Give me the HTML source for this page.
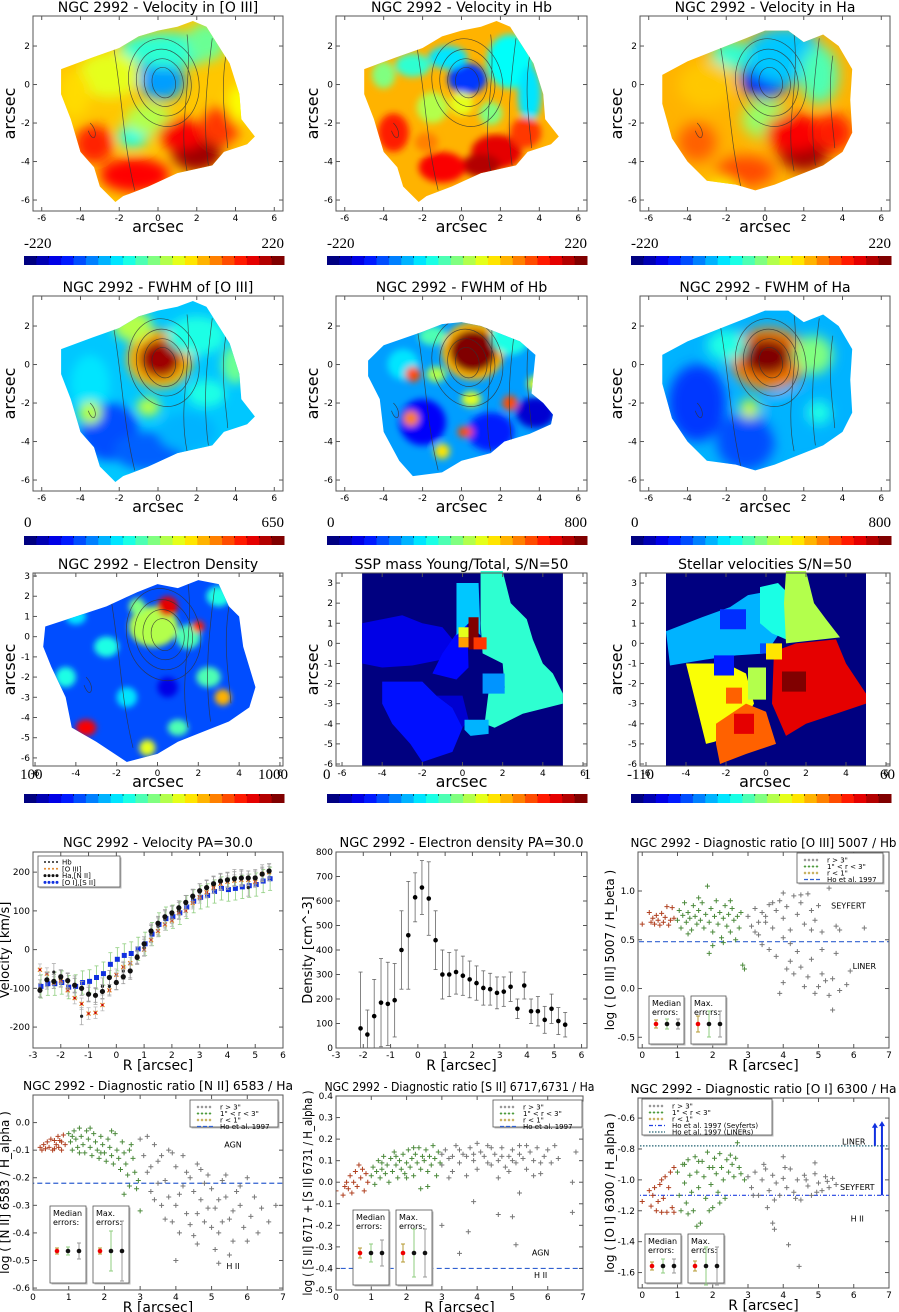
<!DOCTYPE html>
<html><head><meta charset="utf-8"><title>NGC 2992 maps</title>
<style>
html,body{margin:0;padding:0;background:#fff;}
svg{display:block;font-family:"DejaVu Sans","Liberation Sans",sans-serif;}
.serif{font-family:"Liberation Serif","DejaVu Serif",serif;}
</style></head>
<body>
<svg id="fig" width="899" height="1312" viewBox="0 0 899 1312" xmlns="http://www.w3.org/2000/svg">
<defs id="defs"></defs>
</svg>
<script>
// ---------- data: velocity curve PA=30 ----------
const velR=[-2.75,-2.5,-2.25,-2,-1.75,-1.5,-1.25,-1,-0.75,-0.5,-0.25,0,0.25,0.5,0.75,1,1.25,1.5,1.75,2,2.25,2.5,2.75,3,3.25,3.5,3.75,4,4.25,4.5,4.75,5,5.25,5.5];
const velHb=[-100,-80,-58,-75,-82,-90,-172,-113,-120,-95,-95,-82,-55,-55,-15,5,40,60,78,90,100,118,132,148,158,168,175,178,185,185,160,185,197,200];
const velO3=[-52,-62,-85,-80,-105,-125,-140,-165,-163,-143,-105,-65,-45,-35,-20,0,25,48,65,75,95,100,120,135,148,160,170,175,178,180,180,175,195,200];
const velHa=[-105,-78,-82,-70,-80,-92,-100,-115,-118,-108,-72,-85,-70,-55,-20,15,48,68,85,95,108,122,138,152,160,170,177,180,183,185,185,185,195,203];
const velOI=[-95,-88,-88,-85,-97,-95,-85,-82,-72,-62,-38,-25,-15,-10,2,15,40,65,80,85,95,110,125,135,140,150,158,155,158,162,165,168,177,183];
// ---------- data: electron density ----------
const denR=[-2.1,-1.85,-1.6,-1.35,-1.1,-0.85,-0.6,-0.35,-0.1,0.15,0.4,0.65,0.9,1.15,1.4,1.65,1.9,2.15,2.4,2.65,2.9,3.15,3.4,3.65,3.9,4.15,4.4,4.65,4.9,5.15,5.4];
const denV=[80,55,130,185,180,195,400,460,615,655,610,440,300,300,310,295,280,265,245,240,225,230,250,160,255,150,150,115,160,110,95];
const denE=[230,100,150,180,170,150,160,220,100,110,150,120,100,90,90,80,75,70,70,65,65,60,60,40,55,50,60,55,60,55,50];
// ---------- data: [O III]/Hb ----------
const o3RedR=[0,0.2,0.25,0.3,0.35,0.4,0.45,0.5,0.55,0.6,0.65,0.7,0.75,0.8,0.85,0.9];
const o3RedV=[0.66,0.78,0.68,0.72,0.66,0.75,0.7,0.65,0.77,0.68,0.73,0.84,0.65,0.7,0.83,0.72];
const o3GrnR=[1.0,1.05,1.1,1.15,1.2,1.25,1.3,1.35,1.4,1.45,1.5,1.55,1.6,1.65,1.7,1.75,1.8,1.85,1.9,1.95,2.0,2.05,2.1,2.15,2.2,2.25,2.3,2.35,2.4,2.45,2.5,2.55,2.6,2.65,2.7,2.75,2.8,2.85,2.9,1.9,2.0,2.3,1.3,1.6,2.5];
const o3GrnV=[0.7,0.8,0.62,0.75,0.88,0.68,0.78,0.72,0.6,0.85,0.74,0.66,0.8,0.7,0.88,0.62,0.76,1.05,0.68,0.82,0.58,0.74,0.9,0.66,0.78,0.52,0.72,0.85,0.64,0.76,0.58,0.82,0.7,0.5,0.74,0.62,0.78,0.24,0.2,0.36,0.44,0.47,0.56,0.93,0.9];
const o3GryR=[3.0,3.1,3.2,3.3,3.4,3.5,3.6,3.7,3.8,3.9,4.0,4.1,4.2,4.3,4.4,4.5,4.6,4.7,4.8,4.9,5.0,5.1,5.3,5.5,5.6,6.3,3.4,3.6,3.8,4.0,4.1,4.2,4.3,4.4,4.5,4.6,4.7,4.8,4.9,5.0,5.1,5.2,5.3,5.4,5.5,5.6,5.8,5.9,3.9,4.2,3.5,3.7,4.0,4.5,3.2,5.4,5.1,4.0,3.3,4.8];
const o3GryV=[0.74,0.64,0.82,0.55,0.78,0.68,0.86,0.62,0.8,0.9,0.72,0.84,0.6,0.95,0.76,0.88,0.66,0.97,0.8,0.7,0.85,0.58,1.03,0.64,0.6,0.62,0.45,0.4,0.33,0.52,0.2,0.28,0.15,0.38,0.22,0.02,0.12,0.3,-0.05,0.02,0.15,0.08,-0.07,0.1,0.36,-0.02,0.04,0.18,-0.05,0.46,0.74,0.88,0.98,0.96,0.58,-0.22,0.4,0.06,0.68,0.6];
// ---------- data: [N II]/Ha ----------
const n2RedR=[0.2,0.25,0.3,0.35,0.4,0.45,0.5,0.55,0.6,0.65,0.7,0.72,0.75,0.8,0.85,0.9,0.6,0.8];
const n2RedV=[-0.09,-0.1,-0.08,-0.095,-0.07,-0.09,-0.06,-0.1,-0.065,-0.08,-0.05,-0.09,-0.065,-0.07,-0.045,-0.08,-0.095,-0.1];
const n2GrnR=[1.0,1.05,1.1,1.15,1.2,1.25,1.3,1.35,1.4,1.45,1.5,1.55,1.6,1.65,1.7,1.75,1.8,1.85,1.9,1.95,2.0,2.05,2.1,2.15,2.2,2.25,2.3,2.35,2.4,2.45,2.5,2.55,2.6,2.65,2.7,2.75,2.8,2.85,2.9,2.55,1.1,1.3,1.6,1.9,2.2,2.7,2.95,3.0];
const n2GrnV=[-0.04,-0.07,-0.1,-0.03,-0.06,-0.09,-0.02,-0.05,-0.08,-0.11,-0.03,-0.06,-0.09,-0.12,-0.04,-0.07,-0.1,-0.13,-0.05,-0.08,-0.11,-0.14,-0.06,-0.09,-0.12,-0.15,-0.04,-0.1,-0.13,-0.17,-0.07,-0.11,-0.15,-0.19,-0.23,-0.08,-0.13,-0.18,-0.24,-0.26,-0.05,-0.11,-0.02,-0.11,-0.03,-0.1,-0.21,-0.32];
const n2GryR=[3.0,3.1,3.2,3.3,3.4,3.5,3.6,3.7,3.8,3.9,4.0,4.1,4.2,4.3,4.4,4.5,4.6,4.7,4.8,4.9,5.0,5.1,5.2,5.3,5.4,5.5,5.6,5.7,5.8,5.9,6.0,6.1,6.2,6.4,6.6,6.8,3.2,3.5,3.7,3.9,4.1,4.3,4.5,4.6,4.8,5.0,5.2,5.4,5.6,5.8,4.0,4.4,4.7,5.1,5.5,3.3,3.6,4.2,4.9,5.3,4.0,5.2,3.4,3.8,4.6,6.3,6.0];
const n2GryV=[-0.06,-0.12,-0.18,-0.25,-0.08,-0.14,-0.3,-0.21,-0.1,-0.36,-0.16,-0.26,-0.12,-0.33,-0.2,-0.41,-0.15,-0.28,-0.36,-0.19,-0.24,-0.31,-0.4,-0.21,-0.27,-0.35,-0.43,-0.25,-0.3,-0.38,-0.2,-0.34,-0.27,-0.31,-0.36,-0.3,-0.05,-0.22,-0.35,-0.11,-0.4,-0.18,-0.25,-0.44,-0.22,-0.38,-0.28,-0.19,-0.32,-0.23,-0.3,-0.37,-0.17,-0.46,-0.48,-0.16,-0.12,-0.23,-0.31,-0.36,-0.5,-0.51,-0.28,-0.27,-0.33,-0.4,-0.43];
// ---------- data: [S II]/Ha ----------
const s2RedR=[0,0.2,0.25,0.3,0.35,0.4,0.45,0.5,0.55,0.6,0.65,0.7,0.75,0.8,0.85,0.9];
const s2RedV=[-0.04,-0.06,-0.02,0.0,-0.03,0.03,-0.05,0.0,0.05,-0.02,0.08,0.02,0.06,-0.04,0.04,0.0];
const s2GrnR=[1.0,1.05,1.1,1.15,1.2,1.25,1.3,1.35,1.4,1.45,1.5,1.55,1.6,1.65,1.7,1.75,1.8,1.85,1.9,1.95,2.0,2.05,2.1,2.15,2.2,2.25,2.3,2.35,2.4,2.45,2.5,2.55,2.6,2.65,2.7,2.75,2.8,2.85,2.9,2.95,2.4,2.6,1.7,2.0,1.3,2.2];
const s2GrnV=[0.03,0.07,-0.01,0.05,0.1,0.02,0.06,0.12,0.04,0.08,0.0,0.11,0.05,0.14,0.08,0.02,0.1,0.06,0.13,0.04,0.09,0.15,0.07,0.11,0.03,0.13,0.09,0.16,0.06,0.12,0.1,0.15,0.05,0.12,0.08,0.17,0.11,0.03,0.14,0.09,-0.03,-0.02,0.12,0.02,0.09,0.16];
const s2GryR=[3.0,3.1,3.2,3.3,3.4,3.5,3.6,3.7,3.8,3.9,4.0,4.1,4.2,4.3,4.4,4.5,4.6,4.7,4.8,4.9,5.0,5.1,5.2,5.3,5.4,5.5,5.6,5.7,5.8,5.9,6.0,6.1,6.2,6.3,6.8,6.7,3.2,3.5,3.7,4.0,4.3,4.6,4.9,5.2,5.6,5.8,4.4,3.9,3.3,4.7,5.0,5.4,3.0,3.5,3.75,3.9,4.6,5.0,5.1,6.7,5.2,3.0];
const s2GryV=[0.08,0.15,0.11,0.05,0.17,0.09,0.13,0.03,0.16,0.1,0.06,0.14,0.12,0.17,0.08,0.13,0.1,0.16,0.07,0.12,0.15,0.09,0.17,0.11,0.06,0.14,0.1,0.16,0.04,0.12,0.15,0.09,0.17,0.11,0.14,0.0,0.02,0.15,0.12,0.18,0.09,0.02,0.05,0.13,0.03,0.09,0.16,0.13,0.12,0.12,0.1,0.17,-0.2,-0.33,-0.23,-0.09,-0.15,-0.16,-0.29,-0.14,-0.05,0.13];
// ---------- data: [O I]/Ha ----------
const o1RedR=[0,0.2,0.25,0.3,0.35,0.4,0.45,0.5,0.55,0.6,0.65,0.7,0.75,0.8,0.85,0.9,0.9,0.55];
const o1RedV=[-1.14,-1.07,-1.17,-1.1,-1.05,-1.2,-1.14,-1.03,-1.21,-1.12,-0.98,-1.21,-1.05,-0.95,-1.18,-0.92,-1.21,-1.0];
const o1GrnR=[1.0,1.05,1.1,1.15,1.2,1.25,1.3,1.35,1.4,1.45,1.5,1.55,1.6,1.65,1.7,1.75,1.8,1.85,1.9,1.95,2.0,2.05,2.1,2.15,2.2,2.25,2.3,2.35,2.4,2.45,2.5,2.55,2.6,2.65,2.7,2.75,2.8,2.9,1.2,1.6,1.3,2.2,1.9,1.55,2.0];
const o1GrnV=[-0.95,-1.1,-1.2,-0.9,-1.02,-1.15,-0.87,-0.97,-1.08,-1.2,-0.85,-0.95,-1.05,-1.28,-0.88,-0.98,-1.12,-0.82,-0.92,-1.03,-1.18,-0.86,-0.96,-1.08,-0.83,-0.92,-1.0,-1.12,-0.87,-0.95,-0.84,-0.9,-0.98,-0.86,-0.76,-0.92,-0.96,-1.0,-0.9,-0.88,-1.22,-1.15,-1.2,-1.3,-0.92];
const o1GryR=[3.0,3.1,3.2,3.3,3.4,3.5,3.6,3.7,3.8,3.9,4.0,4.1,4.2,4.3,4.4,4.5,4.6,4.7,4.8,4.9,5.0,5.1,5.2,5.3,5.4,5.5,3.15,3.45,3.75,4.05,4.35,4.65,4.95,5.25,3.7,3.75,4.15,4.45,4.0,4.9,3.55];
const o1GryV=[-0.98,-1.05,-0.95,-1.1,-1.0,-0.93,-1.07,-0.97,-1.02,-1.1,-0.99,-1.05,-0.93,-1.08,-1.0,-1.13,-0.97,-1.04,-1.1,-0.96,-1.02,-1.07,-0.98,-1.05,-0.99,-1.03,-1.1,-0.9,-1.13,-0.92,-1.12,-1.0,-1.08,-1.01,-1.28,-1.32,-1.42,-1.56,-0.85,-0.89,-1.18];
// ---------- colorbar labels ----------
const cbLabels=[["-220","220"],["-220","220"],["-220","220"],["0","650"],["0","800"],["0","800"],["100","1000"],["0","1"],["-110","60"]];

const NS='http://www.w3.org/2000/svg';
const svg=document.getElementById('fig');
const defs=document.getElementById('defs');
function mk(tag,attrs,parent){const e=document.createElementNS(NS,tag);for(const k in attrs)e.setAttribute(k,attrs[k]);(parent||svg).appendChild(e);return e;}
function cl(v){return Math.max(0,Math.min(1,v));}
function jet(t){const r=cl(1.5-Math.abs(4*t-3)),g=cl(1.5-Math.abs(4*t-2)),b=cl(1.5-Math.abs(4*t-1));return 'rgb('+Math.round(r*255)+','+Math.round(g*255)+','+Math.round(b*255)+')';}
function lin(d0,d1,p0,p1){return v=>p0+(v-d0)*(p1-p0)/(d1-d0);}
function txt(x,y,s,size,parent,anchor,extra){const t=mk('text',Object.assign({x:x,y:y,'font-size':size,'text-anchor':anchor||'middle',fill:'#000'},extra||{}),parent);t.textContent=s;return t;}

function frame(g,x0,y0,x1,y1){
  const r=mk('rect',{x:x0,y:y0,width:x1-x0,height:y1-y0,fill:'none',stroke:'#555','stroke-width':1},g);
  
  
}
function xticks(g,sx,vals,y0,y1,fmt){
  vals.forEach(v=>{const x=sx(v);
    mk('line',{x1:x,x2:x,y1:y1,y2:y1-4,stroke:'#555'},g);mk('line',{x1:x,x2:x,y1:y0,y2:y0+4,stroke:'#555'},g);
    const t=txt(x,y1+10,fmt?fmt(v):String(v),9,g);
    
    });
}
function yticks(g,sy,vals,x0,x1,fmt){
  vals.forEach(v=>{const y=sy(v);
    mk('line',{x1:x0,x2:x0+4,y1:y,y2:y,stroke:'#555'},g);mk('line',{x1:x1,x2:x1-4,y1:y,y2:y,stroke:'#555'},g);
    const t=txt(x0-3,y+3,fmt?fmt(v):String(v),9,g,'end');
    
    });
}

// ---------- maps ----------
const polyMain=[[-5,0.8],[-3.4,1.4],[-2,1.9],[-1,2.5],[0,2.8],[1,3.0],[1.8,3.3],[2.5,3.0],[3.0,2.2],[3.7,1.1],[4.2,-0.5],[4.3,-1.8],[5.0,-2.7],[4.6,-3.1],[3.4,-3.5],[2.8,-4.2],[1.0,-4.6],[-0.5,-5.3],[-1.8,-5.8],[-2.2,-6.1],[-3.0,-5.3],[-3.3,-4.3],[-4.0,-3.5],[-4.5,-1.8],[-5.0,-0.5]];
const polyHb=[[-4.8,0.2],[-4,1],[-2,1.7],[-1,2.1],[0,2.2],[1,2.0],[2,1.6],[3,1.2],[3.8,0.5],[3.6,-1.5],[4.2,-2],[4.7,-2.6],[4.6,-3.1],[3.5,-3.6],[2.2,-4],[1.5,-4.6],[0,-5],[-1,-5.6],[-2.5,-5.8],[-3.2,-5],[-4,-3.5],[-4.2,-1.8],[-4.8,-0.6]];
const polyHa=[[-5.3,0.5],[-4,1.2],[-2.5,1.8],[-1,2.4],[0,2.8],[1.2,2.8],[2,2.2],[3,2.6],[3.8,2],[4.5,0.8],[4.4,-0.8],[4.5,-2.5],[4,-3.5],[3,-4.2],[1.5,-4.8],[0.5,-5.2],[-0.5,-5.5],[-1.5,-5.2],[-3,-5],[-4,-4],[-4.8,-2.8],[-5.3,-1]];
const polyDen=[[-5.5,0.5],[-4,1],[-2.5,1.5],[-1,2.2],[0,2.6],[1,2.4],[2,2.8],[3,2.6],[3.5,1.5],[4,1],[4.2,-0.5],[4.8,-2.5],[4.5,-3.5],[3.5,-4.2],[2,-4.8],[1,-5.2],[0,-5.8],[-1.5,-6.2],[-3,-5.2],[-4.2,-4.5],[-4.5,-3],[-5.2,-1.5],[-5.6,-0.5]];

const blobsV3=[[-0.6,0.7,0.9,0.8,0.05],[0.2,0.2,1.2,1.0,0.28],[0.5,1.8,2.5,0.9,0.42],[2.5,2.2,1.0,1.0,0.48],[-2.5,0.5,1.6,1.2,0.6],[-1.3,-2.7,0.8,0.6,0.4],[-0.5,-1.8,1.2,0.8,0.55],[2.0,-3.5,1.3,1.0,0.97],[1.2,-2.6,1.2,0.8,0.88],[3.2,-2.2,1.0,1.0,0.82],[-1.2,-4.7,1.8,0.9,0.87],[-3.3,-3.1,1.0,1.0,0.84],[-4.3,-0.5,0.8,1.2,0.66],[4.2,-1,0.6,1,0.62]];
const blobsVHb=[[0.3,0.3,1.0,0.8,0.18],[-0.7,1.4,1.0,0.6,0.35],[2.5,1.2,1.2,1.4,0.38],[3.5,-0.5,0.6,1.5,0.35],[-2.5,1.0,0.9,0.6,0.42],[-4,0.5,0.6,0.7,0.5],[-1.5,-1.2,0.8,0.8,0.55],[1.8,-3.5,1.3,0.9,0.9],[1.0,-4.2,1.0,0.6,0.95],[-1.0,-4.3,1.2,0.8,0.88],[-3.5,-2.5,0.8,1.0,0.85],[3.3,-2.5,0.8,0.8,0.82],[-1.8,-3.0,0.6,0.5,0.75],[0,-1,0.6,0.6,0.6],[1.5,-1.5,0.6,0.6,0.5]];
const blobsVHa=[[0,0.3,1.3,1.0,0.12],[1.0,1.5,2.0,1.5,0.32],[-1.8,1.5,1.0,0.8,0.42],[2.8,0.5,1.0,1.5,0.45],[-3,0,1.5,1.2,0.68],[0,-1.8,1.2,1.0,0.52],[2,-3.5,1.3,1.0,0.97],[1.5,-2.5,1.5,1.0,0.88],[3.5,-2.5,1.0,1.0,0.85],[-1,-4.5,1.5,0.8,0.8],[-3.5,-3,1.0,1.0,0.78],[-2.2,-5.5,0.8,0.6,0.62]];
const blobsF3=[[0.1,0.3,1.7,1.5,0.7],[0.1,0.3,1.1,1.0,0.97],[-1.3,2.0,1.0,0.8,0.55],[2,1.5,1.5,1,0.4],[4,0,0.7,1,0.48],[-3.5,-1,1.0,1.5,0.35],[-2.5,-3.5,1.5,1.5,0.2],[-0.5,-4.5,1.8,1,0.22],[1.5,-3.5,1.5,1,0.3],[-3.5,-2.5,0.6,0.6,0.55],[-0.5,-2.2,0.6,0.5,0.55],[2.5,-1.5,1,0.7,0.4]];
const blobsFHb=[[0.6,0.7,1.6,1.5,0.7],[0.6,0.7,1.2,1.1,1.0],[-1.5,1.5,0.7,0.5,0.45],[2.5,1.5,1,1,0.4],[-3,0,0.8,0.8,0.35],[-2,-3,1.2,1.2,0.12],[1.5,-3.5,1.2,1,0.15],[3.8,-2.5,1,0.8,0.08],[-2.5,-0.5,0.4,0.4,0.8],[-2.6,-2.8,0.4,0.4,0.75],[2.5,-2,0.4,0.4,0.8],[-1,-4.5,0.4,0.4,0.65],[0.5,-1.8,0.5,0.4,0.6],[3.8,-1,0.4,0.4,0.6],[-1.3,-0.5,0.5,0.4,0.55],[0.2,-3.5,0.4,0.3,0.8]];
const blobsFHa=[[0.2,0.3,2.0,1.6,0.75],[0.1,0.4,1.3,1.0,1.0],[2.5,0.5,1.0,1.0,0.5],[-2,1,1,0.8,0.4],[-3.5,-2,1.5,2,0.18],[-1,-4,1.5,1.5,0.2],[1.5,-2.5,1.5,1.2,0.3],[-0.8,-2.3,0.5,0.5,0.58],[2.8,-2.5,0.6,0.6,0.4]];
const blobsDen=[[-0.2,0.5,1.2,1.0,0.55],[0.5,1.5,0.5,0.5,0.9],[1.5,0,0.6,0.6,0.45],[-3.5,-4.5,0.5,0.4,0.88],[-2.5,-0.5,0.6,0.5,0.4],[2.5,-2,0.6,0.5,0.45],[-1.5,-3,0.5,0.5,0.35],[3.2,-3,0.4,0.4,0.7],[1,-4.5,0.5,0.4,0.45],[-4,1,0.5,0.4,0.35],[3,2,0.6,0.5,0.4],[0.5,-2.5,0.5,0.5,0.1],[-4.5,-2,0.5,0.5,0.4],[-0.5,-5.5,0.4,0.4,0.6],[2,0.5,0.3,0.3,0.85],[-1,1.5,0.4,0.4,0.5]];

const mapCfg=[
 {name:'velocity-oiii-map',title:'NGC 2992 - Velocity in [O III]',x0:33,x1:283,y0:16,y1:211,poly:polyMain,base:0.68,blobs:blobsV3,blur:6},
 {name:'velocity-hb-map',title:'NGC 2992 - Velocity in Hb',x0:336,x1:587,y0:16,y1:211,poly:polyMain,base:0.7,blobs:blobsVHb,blur:3.5},
 {name:'velocity-ha-map',title:'NGC 2992 - Velocity in Ha',x0:640,x1:890,y0:16,y1:211,poly:polyHa,base:0.7,blobs:blobsVHa,blur:7},
 {name:'fwhm-oiii-map',title:'NGC 2992 - FWHM of [O III]',x0:33,x1:283,y0:296,y1:491,poly:polyMain,base:0.32,blobs:blobsF3,blur:5},
 {name:'fwhm-hb-map',title:'NGC 2992 - FWHM of Hb',x0:336,x1:587,y0:296,y1:491,poly:polyHb,base:0.28,blobs:blobsFHb,blur:3.5},
 {name:'fwhm-ha-map',title:'NGC 2992 - FWHM of Ha',x0:640,x1:890,y0:296,y1:491,poly:polyHa,base:0.3,blobs:blobsFHa,blur:6}
];
const yt1=[2,0,-2,-4,-6];
const xt1=[-6,-4,-2,0,2,4,6];

function contours(g,sx,sy){
  const cg=mk('g',{fill:'none',stroke:'#333','stroke-width':0.7,opacity:0.8},g);
  [[0.6,0.8],[1.0,1.25],[1.4,1.75],[1.8,2.3]].forEach(r=>{
    mk('ellipse',{cx:sx(0.3),cy:sy(0.1),rx:r[0]*(sx(1)-sx(0)),ry:r[1]*(sy(0)-sy(1)),transform:'rotate(-12 '+sx(0.3)+' '+sy(0.1)+')'},cg);});
  const lines=[[[-2.3,2],[-1.8,-1],[-1.8,-3],[-1.2,-5.5]],[[1.5,2.6],[1.8,0],[1.0,-2],[1.5,-4.5]],[[2.8,2.4],[2.5,0],[2.3,-2],[2.6,-4.2]],[[-3.5,-2],[-3,-2.5],[-3.3,-3.2],[-3.6,-2.4]],[[3.5,1.5],[3.2,-0.5],[3.5,-2],[3.6,-3.3]]];
  lines.forEach(l=>{mk('path',{d:'M'+sx(l[0][0])+' '+sy(l[0][1])+' C'+sx(l[1][0])+' '+sy(l[1][1])+' '+sx(l[2][0])+' '+sy(l[2][1])+' '+sx(l[3][0])+' '+sy(l[3][1])},cg);});
}

function drawMap(c,i,xd,yd,yt){
  const g=mk('g',{});
  
  
  const sx=lin(xd[0],xd[1],c.x0,c.x1),sy=lin(yd[0],yd[1],c.y0,c.y1);
  const cp=mk('clipPath',{id:'clip'+i},defs);
  mk('polygon',{points:c.poly.map(p=>sx(p[0])+','+sy(p[1])).join(' ')},cp);
  const f=mk('filter',{id:'blur'+i,x:'-50%',y:'-50%',width:'200%',height:'200%'},defs);
  mk('feGaussianBlur',{stdDeviation:c.blur},f);
  const inner=mk('g',{'clip-path':'url(#clip'+i+')'},g);
  mk('rect',{x:c.x0,y:c.y0,width:c.x1-c.x0,height:c.y1-c.y0,fill:jet(c.base)},inner);
  const bg=mk('g',{filter:'url(#blur'+i+')'},inner);
  c.blobs.forEach(b=>{const e=mk('ellipse',{cx:sx(b[0]),cy:sy(b[1]),rx:b[2]*(sx(1)-sx(0)),ry:b[3]*(sy(0)-sy(1)),fill:jet(b[4])},bg);
    
    });
  contours(inner,sx,sy);
  frame(g,c.x0,c.y0,c.x1,c.y1);
  xticks(g,sx,xt1,c.y0,c.y1);
  yticks(g,sy,yt,c.x0,c.x1);
  const t=txt((c.x0+c.x1)/2,c.y0-4,c.title,14,g);
  
  
  const xl=txt((c.x0+c.x1)/2,c.y1+21,'arcsec',16,g);
  
  
  const yl=txt(0,0,'arcsec',16,g,'middle',{transform:'translate('+(c.x0-18)+','+((c.y0+c.y1)/2)+') rotate(-90)'});
  
  
}
mapCfg.forEach((c,i)=>drawMap(c,i,[-6.45,6.45],[3.56,-6.57],yt1));
drawMap({name:'electron-density-map',title:'NGC 2992 -  Electron Density',x0:33,x1:283,y0:573,y1:766,poly:polyDen,base:0.2,blobs:blobsDen,blur:3},6,[-6.1,6.15],[3.15,-6.4],[3,2,1,0,-1,-2,-3,-4,-5,-6]);

// ---------- binned maps (SSP, stellar velocities) ----------
const sspRegions=[
 [0.1,[[-5,1],[-3,1.4],[-2,1],[-1,0.8],[-0.5,0.2],[-1,-0.8],[-2.5,-1.1],[-4,-1.2],[-5,-1]]],
 [0.13,[[-0.3,2.4],[-0.3,0.5],[-1,-0.5],[-1.5,-1.5],[-0.3,-1.8],[0.3,-1.2],[0.2,2.4]]],
 [0.14,[[-4,-1.9],[-2,-1.9],[-1.3,-2.6],[-0.5,-3.2],[0,-4.2],[-0.5,-5.4],[-2,-5.9],[-2.6,-5],[-3.5,-4],[-4,-3]]],
 [0.08,[[-1.3,-2.6],[0,-2.6],[0.3,-3.8],[0,-4.2],[-0.5,-3.2]]],
 [0.32,[[-0.3,3],[0.8,3],[0.9,0.4],[0.3,1.0],[-0.3,0.4]]],
 [0.42,[[0.9,3.6],[2,3.6],[2.4,2],[3.2,1.2],[3.5,0.2],[4,-1],[4.5,-1.5],[5,-2.5],[5,-3],[3,-3.5],[1.6,-4.2],[1.1,-4],[1.3,-2.4],[2.1,-2.2],[2,-1],[1,-0.5],[0.9,1]]],
 [0.27,[[1.0,-1.5],[2.1,-1.5],[2.1,-2.5],[1.0,-2.5]]],
 [0.3,[[0.1,-3.8],[1.3,-3.8],[1.3,-4.5],[0.4,-4.6],[0.1,-4.3]]],
 [1.0,[[0.3,1.3],[0.8,1.3],[0.8,0.3],[0.55,0.3],[0.55,-0.3],[0.3,-0.3]]],
 [0.82,[[0.55,0.3],[1.2,0.3],[1.2,-0.3],[0.55,-0.3]]],
 [0.6,[[-0.2,0.8],[0.3,0.8],[0.3,0.3],[-0.2,0.3]]],
 [0.72,[[-0.2,0.3],[0.3,0.3],[0.3,-0.2],[-0.2,-0.2]]]
];
const stvRegions=[
 [0.3,[[-5,0.6],[-3.2,1.3],[-1.8,1.8],[-0.9,2.4],[0.2,2.6],[0.6,0.4],[0,-0.5],[-1.5,-0.6],[-3,-0.8],[-4.8,-1.1]]],
 [0.17,[[-2.3,1.7],[-1,1.7],[-1,0.7],[-2.3,0.7]]],
 [0.4,[[-0.3,2.8],[0.6,3],[1,2.6],[1,0.2],[0.3,0.5],[-0.3,1]]],
 [0.55,[[1,3.6],[2,3.6],[2.4,2],[3,1.2],[3.7,0.3],[1,0],[0.9,2]]],
 [0.62,[[-4,-1],[-2,-1],[-1,-1.5],[-0.6,-3],[-1.5,-4.5],[-2.6,-4.9],[-3,-5],[-3.5,-3]]],
 [0.78,[[-2.5,-4],[-1,-3],[0,-3.4],[0.5,-5],[-1,-5.5],[-2.3,-6],[-2.5,-5]]],
 [0.9,[[0.4,-0.4],[1.5,0],[3.5,0.2],[4,-1],[5,-2.5],[5,-3],[3.5,-3.5],[2,-4],[1,-4.6],[0.3,-3]]],
 [0.55,[[-0.9,-1.2],[0,-1.2],[0,-2.8],[-0.9,-2.8]]],
 [1.0,[[0.8,-1.4],[2,-1.4],[2,-2.4],[0.8,-2.4]]],
 [0.9,[[-1.6,-3.5],[-0.6,-3.5],[-0.6,-4.5],[-1.6,-4.5]]],
 [0.78,[[-2,-2.2],[-1.2,-2.2],[-1.2,-3],[-2,-3]]],
 [0.15,[[-2.6,-0.6],[-1.6,-0.6],[-1.6,-1.6],[-2.6,-1.6]]],
 [0.65,[[0,0],[0.8,0],[0.8,-0.8],[0,-0.8]]],
 [0.2,[[-0.3,0],[0,0],[0,-0.5],[-0.3,-0.5]]]
];
function drawBinned(name,title,x0,x1,regions){
  const g=mk('g',{});
  
  
  const y0=573,y1=766;
  const sx=lin(-6.3,6.2,x0,x1),sy=lin(3.5,-6.1,y0,y1);
  mk('rect',{x:sx(-5),y:y0,width:sx(5)-sx(-5),height:y1-y0,fill:jet(0)},g);
  regions.forEach(r=>{const p=mk('polygon',{points:r[1].map(q=>sx(q[0])+','+sy(q[1])).join(' '),fill:jet(r[0])},g);
    
    });
  frame(g,x0,y0,x1,y1);
  xticks(g,sx,xt1,y0,y1);
  yticks(g,sy,[3,2,1,0,-1,-2,-3,-4,-5,-6],x0,x1);
  const t=txt((x0+x1)/2,y0-4,title,14,g);
  
  
  const xl=txt((x0+x1)/2,y1+21,'arcsec',16,g);
  
  
  const yl=txt(0,0,'arcsec',16,g,'middle',{transform:'translate('+(x0-18)+','+((y0+y1)/2)+') rotate(-90)'});
  
  
}
drawBinned('ssp-mass-map','SSP mass Young/Total, S/N=50',336,587,sspRegions);
drawBinned('stellar-velocity-map','Stellar velocities S/N=50',640,890,stvRegions);

// ---------- colorbars ----------
const cbX=[24,327,631],cbY=[256,536,794],cbLY=[248,527,779];
cbLabels.forEach((lab,i)=>{
  const col=i%3,row=Math.floor(i/3);
  const g=mk('g',{});
  
  
  const x0=cbX[col],w=260,n=21;
  for(let k=0;k<n;k++){mk('rect',{x:x0+k*w/n,y:cbY[row],width:w/n+0.5,height:9,fill:jet(k/(n-1))},g);
    if(k>0)mk('line',{x1:x0+k*w/n,x2:x0+k*w/n,y1:cbY[row],y2:cbY[row]+2,stroke:'#000','stroke-width':0.6},g);}
  const off=row===2?4:0;
  const a=txt(x0-off,cbLY[row],lab[0],15,g,'start',{class:'serif'});
  
  
  const b=txt(x0+w+off,cbLY[row],lab[1],15,g,'end',{class:'serif'});
  
  
});

// ---------- generic plot axes ----------
function axesSetup(name,x0,x1,y0,y1,xd,yd,xt,yt,title,xlab,ylab,fmtY,tl,ylen){
  const g=mk('g',{});
  
  
  const sx=lin(xd[0],xd[1],x0,x1),sy=lin(yd[0],yd[1],y0,y1);
  const tex=tl?{textLength:tl,lengthAdjust:'spacingAndGlyphs'}:{};
  const t=txt((x0+x1)/2,y0-5,title,tl?12:13,g,'middle',tex);
  
  
  const xl=txt((x0+x1)/2,y1+22,xlab,14,g);
  
  
  const yex={transform:'translate('+(x0-24)+','+((y0+y1)/2)+') rotate(-90)'};
  if(ylen){yex.textLength=ylen;yex.lengthAdjust='spacingAndGlyphs';}
  const yl=txt(0,0,ylab,tl?12:13,g,'middle',yex);
  
  
  const clipId='pc'+name;
  const cp=mk('clipPath',{id:clipId},defs);
  mk('rect',{x:x0,y:y0,width:x1-x0,height:y1-y0},cp);
  const inner=mk('g',{'clip-path':'url(#'+clipId+')'},g);
  frame(g,x0,y0,x1,y1);
  xticks(g,sx,xt,y0,y1);
  yticks(g,sy,yt,x0,x1,fmtY);
  return {g,inner,sx,sy};
}
function cross(parent,x,y,color,s){
  mk('path',{d:'M'+(x-s)+' '+y+'H'+(x+s)+'M'+x+' '+(y-s)+'V'+(y+s),stroke:color,'stroke-width':1},parent);
}
function scatter(ax,R,V,color,name){
  const g=mk('g',{},ax.inner);
  
  
  R.forEach((r,i)=>cross(g,ax.sx(r),ax.sy(V[i]),color,2.5));
}
function hline(ax,v,color,dash,name){
  const l=mk('line',{x1:ax.sx(-1),x2:ax.sx(8),y1:ax.sy(v),y2:ax.sy(v),stroke:color,'stroke-width':1.2,'stroke-dasharray':dash},ax.inner);
  
  
}
function diagLegend(ax,x,y,w,h,extra){
  const g=mk('g',{},ax.g);
  
  
  mk('rect',{x:x+1.5,y:y+1.5,width:w,height:h,fill:'#bbb'},g);
  mk('rect',{x:x,y:y,width:w,height:h,fill:'#fff',stroke:'#555','stroke-width':0.8},g);
  const items=[['#777','r > 3"','p'],['#4c9a3c','1" < r < 3"','p'],['#b59a30','r < 1"','p']].concat(extra);
  items.forEach((it,k)=>{const yy=y+7+k*6.5;
    if(it[2]==='p'){for(let j=0;j<4;j++)cross(g,x+8+j*4,yy,it[0],1.2);}
    else mk('line',{x1:x+7,x2:x+23,y1:yy,y2:yy,stroke:it[0],'stroke-width':1.2,'stroke-dasharray':it[2]},g);
    txt(x+30,yy+2.5,it[1],7,g,'start');});
}
function errInset(ax,x,w,y0,y1,ydot,med,mx){
  [[x,'Median','errors:',med],[x+w+7,'Max.','errors:',mx]].forEach((b,k)=>{
    const g=mk('g',{},ax.g);
    
    
    mk('rect',{x:b[0]+1.5,y:y0+1.5,width:w,height:y1-y0,fill:'#bbb'},g);
    mk('rect',{x:b[0],y:y0,width:w,height:y1-y0,fill:'#fff',stroke:'#555','stroke-width':0.8},g);
    txt(b[0]+3,y0+10,b[1],8,g,'start');txt(b[0]+3,y0+19,b[2],8,g,'start');
    const cols=['#b59a30','#8fce7f','#999'],dots=['#e00','#111','#111'];
    b[3].forEach((e,j)=>{const cx=b[0]+7+j*11;
      mk('line',{x1:cx,x2:cx,y1:ydot-e,y2:ydot+e,stroke:cols[j],'stroke-width':1},g);
      mk('line',{x1:cx-2,x2:cx+2,y1:ydot-e,y2:ydot-e,stroke:cols[j]},g);
      mk('line',{x1:cx-2,x2:cx+2,y1:ydot+e,y2:ydot+e,stroke:cols[j]},g);
      mk('circle',{cx:cx,cy:ydot,r:2.3,fill:dots[j]},g);});
  });
}
const f1=v=>v.toFixed(1);

// ---------- velocity PA ----------
(function(){
  const ax=axesSetup('velocity-pa-plot',33,283,852,1048,[-3,6],[252,-254],[-3,-2,-1,0,1,2,3,4,5,6],[200,100,0,-100,-200],'NGC 2992 - Velocity PA=30.0','R [arcsec]','Velocity [km/s]');
  const series=[[velOI,'#1030e0','#8fce7f',30,'sq','series-oi-sii'],[velO3,'#d04010','#bbb',15,'x','series-oiii'],[velHb,'#222','#aaa',22,'d','series-hb'],[velHa,'#111','#999',18,'c','series-ha-nii']];
  series.forEach(s=>{const g=mk('g',{},ax.inner);
    
    
    velR.forEach((r,i)=>{const x=ax.sx(r)+(s[4]==='sq'?1:0),y=ax.sy(s[0][i]),e=s[3]*(ax.sy(0)-ax.sy(1));
      mk('line',{x1:x,x2:x,y1:y-e,y2:y+e,stroke:s[2],'stroke-width':0.8},g);
      mk('line',{x1:x-2,x2:x+2,y1:y-e,y2:y-e,stroke:s[2],'stroke-width':0.8},g);
      mk('line',{x1:x-2,x2:x+2,y1:y+e,y2:y+e,stroke:s[2],'stroke-width':0.8},g);
      if(s[4]==='sq')mk('rect',{x:x-2.5,y:y-2.5,width:5,height:5,fill:s[1]},g);
      else if(s[4]==='x'){mk('path',{d:'M'+(x-2)+' '+(y-2)+'L'+(x+2)+' '+(y+2)+'M'+(x-2)+' '+(y+2)+'L'+(x+2)+' '+(y-2),stroke:'#e08020','stroke-width':1.2},g);mk('circle',{cx:x,cy:y,r:1.2,fill:'#c00'},g);}
      else mk('circle',{cx:x,cy:y,r:s[4]==='c'?2.6:1.6,fill:s[1]},g);});
  });
  const lg=mk('g',{},ax.g);
  
  
  mk('rect',{x:39.5,y:857.5,width:82,height:31,fill:'#bbb'},lg);
  mk('rect',{x:38,y:856,width:82,height:31,fill:'#fff',stroke:'#555','stroke-width':0.8},lg);
  [['#222','Hb'],['#e08020','[O III]'],['#111','Ha,[N II]'],['#1030e0','[O I],[S II]']].forEach((it,k)=>{const yy=862+k*6.8;
    for(let j=0;j<4;j++)mk('circle',{cx:45+j*4,cy:yy,r:k>=2?1.5:1,fill:it[0]},lg);
    txt(62,yy+2.5,it[1],7,lg,'start');});
})();

// ---------- density ----------
(function(){
  const ax=axesSetup('density-plot',336,587,852,1048,[-3,6.2],[800,0],[-3,-2,-1,0,1,2,3,4,5,6],[0,100,200,300,400,500,600,700,800],'NGC 2992 - Electron density PA=30.0','R [arcsec]','Density [cm^-3]');
  const g=mk('g',{},ax.inner);
  
  
  denR.forEach((r,i)=>{const x=ax.sx(r),y=ax.sy(denV[i]),e=denE[i]*(ax.sy(0)-ax.sy(1));
    mk('line',{x1:x,x2:x,y1:y-e,y2:y+e,stroke:'#666','stroke-width':0.8},g);
    mk('line',{x1:x-2,x2:x+2,y1:y-e,y2:y-e,stroke:'#666','stroke-width':0.8},g);
    mk('line',{x1:x-2,x2:x+2,y1:y+e,y2:y+e,stroke:'#666','stroke-width':0.8},g);
    mk('circle',{cx:x,cy:y,r:2.3,fill:'#000'},g);});
})();

// ---------- [O III]/Hb ----------
(function(){
  const ax=axesSetup('oiii-hb-plot',638,889,852,1048,[-0.12,7],[1.4,-0.61],[0,1,2,3,4,5,6,7],[1.0,0.5,0.0,-0.5],'NGC 2992 - Diagnostic ratio [O III] 5007 / Hb','R [arcsec]','log ( [O III] 5007 / H_beta )',f1,266,null);
  hline(ax,0.48,'#3060d0','5,3','ho1997-line');
  scatter(ax,o3GryR,o3GryV,'#777','points-r-gt-3');
  scatter(ax,o3GrnR,o3GrnV,'#4c8a3c','points-r-1-3');
  scatter(ax,o3RedR,o3RedV,'#b04020','points-r-lt-1');
  txt(ax.sx(5.85),ax.sy(0.82),'SEYFERT',8,ax.g);
  txt(ax.sx(6.3),ax.sy(0.2),'LINER',8,ax.g);
  diagLegend(ax,797,853,86,30,[['#3060d0','Ho et al. 1997','4,2']]);
  errInset(ax,649,35,996,1044,1024,[4,5,5],[8,13,13]);
})();

// ---------- [N II]/Ha ----------
(function(){
  const ax=axesSetup('nii-ha-plot',33,283,1095,1290,[0,7],[0.1,-0.607],[0,1,2,3,4,5,6,7],[0.0,-0.1,-0.2,-0.3,-0.4,-0.5,-0.6],'NGC 2992 - Diagnostic ratio [N II] 6583 / Ha','R [arcsec]','log ( [N II] 6583 / H_alpha )',f1,270,null);
  hline(ax,-0.22,'#3060d0','5,3','ho1997-line');
  scatter(ax,n2GryR,n2GryV,'#777','points-r-gt-3');
  scatter(ax,n2GrnR,n2GrnV,'#4c8a3c','points-r-1-3');
  scatter(ax,n2RedR,n2RedV,'#b04020','points-r-lt-1');
  txt(ax.sx(5.6),ax.sy(-0.09),'AGN',8,ax.g);
  txt(ax.sx(5.6),ax.sy(-0.53),'H II',8,ax.g);
  diagLegend(ax,190,1100,88,27,[['#3060d0','Ho et al. 1997','4,2']]);
  errInset(ax,50,36,1206,1283,1251,[3,4,8],[3,20,30]);
})();

// ---------- [S II]/Ha ----------
(function(){
  const ax=axesSetup('sii-ha-plot',336,583,1096,1290,[0,7],[0.4,-0.5],[0,1,2,3,4,5,6,7],[0.4,0.3,0.2,0.1,0.0,-0.1,-0.2,-0.3,-0.4,-0.5],'NGC 2992 - Diagnostic ratio [S II] 6717,6731 / Ha','R [arcsec]','log ( [S II] 6717 + [S II] 6731 / H_alpha )',f1,270,205);
  hline(ax,-0.4,'#3060d0','5,3','ho1997-line');
  scatter(ax,s2GryR,s2GryV,'#777','points-r-gt-3');
  scatter(ax,s2GrnR,s2GrnV,'#4c8a3c','points-r-1-3');
  scatter(ax,s2RedR,s2RedV,'#b04020','points-r-lt-1');
  txt(ax.sx(5.8),ax.sy(-0.34),'AGN',8,ax.g);
  txt(ax.sx(5.8),ax.sy(-0.445),'H II',8,ax.g);
  diagLegend(ax,493,1100,89,27,[['#3060d0','Ho et al. 1997','4,2']]);
  errInset(ax,353,36,1210,1285,1253,[5,9,13],[9,24,24]);
})();

// ---------- [O I]/Ha ----------
(function(){
  const ax=axesSetup('oi-ha-plot',638,889,1098,1288,[-0.12,7],[-0.47,-1.7],[0,1,2,3,4,5,6,7],[-0.6,-0.8,-1.0,-1.2,-1.4,-1.6],'NGC 2992 - Diagnostic ratio [O I] 6300 / Ha','R [arcsec]','log ( [O I] 6300 / H_alpha )',f1,266,null);
  hline(ax,-0.78,'#206070','1.5,1.5','liner-line');
  hline(ax,-1.1,'#2040e0','4,2,1,2','seyfert-line');
  scatter(ax,o1GryR,o1GryV,'#777','points-r-gt-3');
  scatter(ax,o1GrnR,o1GrnV,'#4c8a3c','points-r-1-3');
  scatter(ax,o1RedR,o1RedV,'#b04020','points-r-lt-1');
  [[6.6,-0.78,-0.63],[6.8,-1.1,-0.62]].forEach(a=>{
    const ar=mk('g',{},ax.g);
    
    
    mk('line',{x1:ax.sx(a[0]),x2:ax.sx(a[0]),y1:ax.sy(a[1]),y2:ax.sy(a[2])+4,stroke:'#1030e0','stroke-width':2},ar);
    mk('polygon',{points:(ax.sx(a[0])-3)+','+(ax.sy(a[2])+5)+' '+(ax.sx(a[0])+3)+','+(ax.sy(a[2])+5)+' '+ax.sx(a[0])+','+ax.sy(a[2]),fill:'#1030e0'},ar);});
  txt(ax.sx(6.0),ax.sy(-0.77),'LINER',8,ax.g);
  txt(ax.sx(6.1),ax.sy(-1.065),'SEYFERT',8,ax.g);
  txt(ax.sx(6.1),ax.sy(-1.27),'H II',8,ax.g);
  diagLegend(ax,642,1099,130,36,[['#2040e0','Ho et al. 1997 (Seyferts)','4,2,1,2'],['#206070','Ho et al. 1997 (LINERs)','1.5,1.5']]);
  errInset(ax,645,36,1234,1283,1266,[4,7,7],[5,19,19]);
})();
</script>
</body></html>
